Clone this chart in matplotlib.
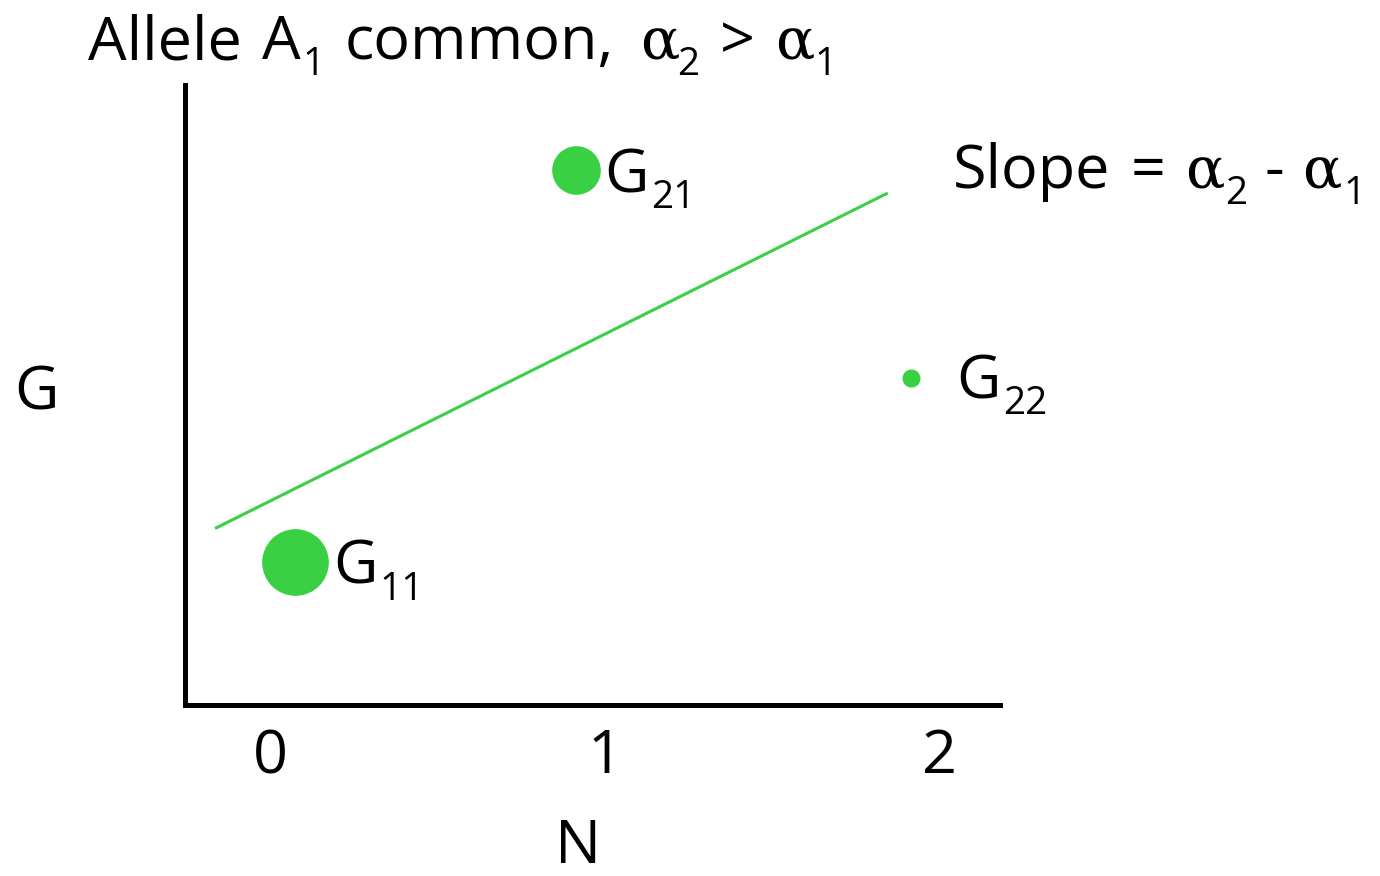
import matplotlib
matplotlib.use("Agg")
import matplotlib.pyplot as plt
from matplotlib.transforms import IdentityTransform

plt.rcParams['font.family'] = ['Open Sans', 'DejaVu Sans']

GREEN = "#3AD043"
FS = 44        # main text size
FS_SUB = 28    # subscript size
SUB_DROP = 16  # px the subscript baseline sits below the main baseline
SPACE = 20     # px between words

# genotype points: x = number of A2 alleles (N), y = genotypic value (G)
names = ["G", "G", "G"]
subs = ["11", "21", "22"]
n_vals = [0.075, 0.913, 1.913]
g_vals = [0.231, 0.863, 0.527]
# marker diameter (points), bigger = more common genotype
sizes = [48, 35, 13]
# label start relative to the dot centre, in pixels (dx, baseline dy)
label_offsets = [(38, -22), (29, -22), (46, -20)]

# regression line
line_x = [-0.164, 1.845]
line_y = [0.285, 0.826]

fig = plt.figure(figsize=(13.8, 8.76), dpi=100)
ax = fig.add_axes([0.134, 0.195, 0.5906, 0.7078])
renderer = fig.canvas.get_renderer()


def rich_text(x, y, pieces):
    # pieces: (text, kind) with kind n = normal, s = subscript, g = greek,
    # or a number = extra gap in px. x, y are display pixels (baseline).
    for p in pieces:
        if not isinstance(p, tuple):
            x += p
            continue
        txt, kind = p
        if kind == "s":
            t = fig.text(x, y - SUB_DROP, txt, fontsize=FS_SUB,
                         transform=IdentityTransform(), va="baseline")
        elif kind == "g":
            t = fig.text(x, y, txt, fontsize=FS - 2, family="DejaVu Serif",
                         transform=IdentityTransform(), va="baseline")
        else:
            t = fig.text(x, y, txt, fontsize=FS,
                         transform=IdentityTransform(), va="baseline")
        x += t.get_window_extent(renderer).width


ax.plot(line_x, line_y, color=GREEN, lw=2.2, solid_capstyle="butt")
ax.set_xlim(-0.254, 2.18)
ax.set_ylim(0, 1)

for x, y, s, nm, sb, off in zip(n_vals, g_vals, sizes, names, subs, label_offsets):
    ax.plot(x, y, "o", ms=s, color=GREEN, mec="none")
    px, py = ax.transData.transform((x, y))
    rich_text(px + off[0], py + off[1], [(nm, "n"), 2, (sb, "s")])

ax.set_xticks([0, 1, 2])
ax.set_xticklabels(["0", "1", "2"], fontsize=FS)
ax.set_yticks([])
ax.tick_params(axis="x", length=0, pad=16)
for sp in ["top", "right"]:
    ax.spines[sp].set_visible(False)
for sp in ["left", "bottom"]:
    ax.spines[sp].set_linewidth(3.6)

H = 876
rich_text(88, H - 59, [("Allele", "n"), SPACE, ("A", "n"), 2, ("1", "s"), SPACE,
                       ("common,", "n"), SPACE + 6, ("α", "g"), -2, ("2", "s"),
                       SPACE, (">", "n"), SPACE, ("α", "g"), 0, ("1", "s")])
rich_text(953, H - 188, [("Slope", "n"), SPACE, ("=", "n"), SPACE, ("α", "g"), 0,
                         ("2", "s"), SPACE - 2, ("-", "n"), SPACE - 2, ("α", "g"), 2,
                         ("1", "s")])
fig.text(37 / 1380, 1 - 393 / H, "G", fontsize=FS, ha="center", va="center")
fig.text(578 / 1380, 1 - 847 / H, "N", fontsize=FS, ha="center", va="center")

fig.savefig("out.png", dpi=100)
